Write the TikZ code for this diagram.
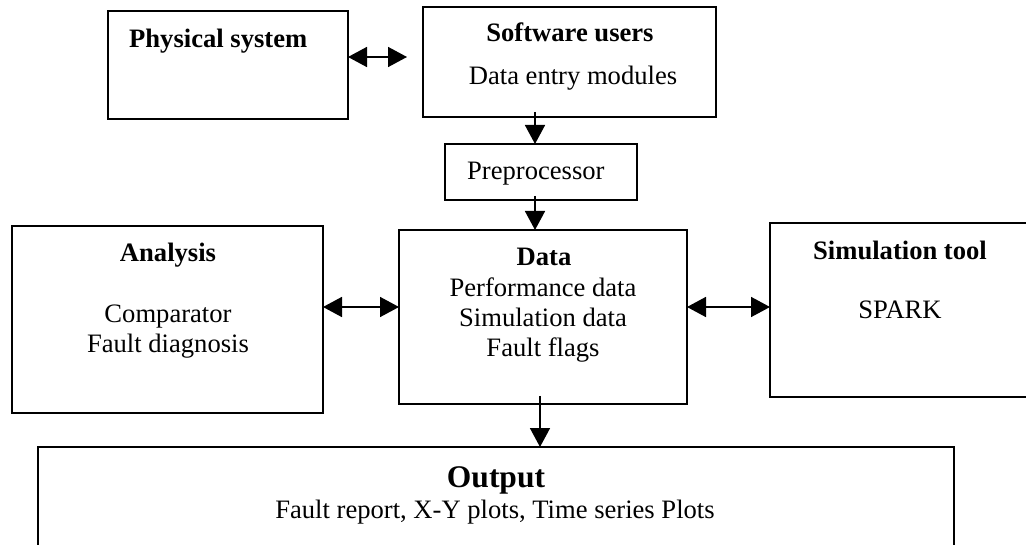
\documentclass[tikz,border=0pt]{standalone}
\usepackage{fontspec}
\setmainfont{Liberation Serif}
\usetikzlibrary{arrows.meta}
\begin{document}
\begin{tikzpicture}[x=1pt,y=-1pt,
  box/.style={draw, line width=1.6pt, rectangle, inner sep=0pt, outer sep=0pt, anchor=north west},
  txt/.style={inner sep=0pt, font=\fontsize{26.6}{30}\selectfont},
  btxt/.style={txt, font=\fontsize{26.6}{30}\selectfont\bfseries},
  bigtxt/.style={inner sep=0pt, font=\fontsize{31.5}{36}\selectfont\bfseries},
  tip/.tip={Triangle[length=19pt,width=20pt]},
  arr/.style={line width=1.6pt, -tip},
  darr/.style={line width=1.6pt, tip-tip}]
\useasboundingbox (0,0) rectangle (1026,545);
\clip (0,0) rectangle (1026,545);
\fill[white] (0,0) rectangle (1026,545);
% boxes
\node[box, minimum width=240pt, minimum height=108pt] (phys) at (108,11) {};
\node[box, minimum width=293pt, minimum height=110pt] (soft) at (423,7) {};
\node[box, minimum width=192pt, minimum height=56pt] (pre) at (445,144) {};
\node[box, minimum width=311pt, minimum height=187pt] (ana) at (12,226) {};
\node[box, minimum width=288pt, minimum height=174pt] (data) at (399,230) {};
\node[box, minimum width=280pt, minimum height=174pt] (sim) at (770,223) {};
\node[box, minimum width=916pt, minimum height=130pt] (out) at (38,447) {};
% texts
\node[btxt, anchor=base west] (tphys) at (129,48) {Physical system};
\node[btxt, anchor=base] (tsoft) at (570,42) {Software users};
\node[txt, anchor=base] (tsoft2) at (573,85) {Data entry modules};
\node[txt, anchor=base west] (tpre) at (467,180) {Preprocessor};
\node[btxt, anchor=base] (tana) at (168,262) {Analysis};
\node[txt, anchor=base] (tana2) at (168,323) {Comparator};
\node[txt, anchor=base] (tana3) at (168,353) {Fault diagnosis};
\node[btxt, anchor=base] (tdata) at (544,266) {Data};
\node[txt, anchor=base] (tdata2) at (543,297) {Performance data};
\node[txt, anchor=base] (tdata3) at (543,327) {Simulation data};
\node[txt, anchor=base] (tdata4) at (543,357) {Fault flags};
\node[btxt, anchor=base] (tsim) at (900,260) {Simulation tool};
\node[txt, anchor=base] (tsim2) at (900,319) {SPARK};
\node[bigtxt, anchor=base] (tout) at (496,487) {Output};
\node[txt, anchor=base] (tout2) at (495,518) {Fault report, X-Y plots, Time series Plots};
% connector helper coordinates
\coordinate (r1) at (0,57);
\coordinate (g1) at (407,0);
\coordinate (c1) at (535,112);
\coordinate (c2) at (535,196);
\coordinate (r2) at (0,307);
\coordinate (c3) at (540,396);
% connectors
\draw[darr] (phys.east |- r1) -- (g1 |- r1);
\draw[arr] (c1) -- (c1 |- pre.north);
\draw[arr] (c2) -- (c2 |- data.north);
\draw[darr] (ana.east |- r2) -- (data.west |- r2);
\draw[darr] (data.east |- r2) -- (sim.west |- r2);
\draw[arr] (c3) -- (c3 |- out.north);
\end{tikzpicture}
\end{document}
